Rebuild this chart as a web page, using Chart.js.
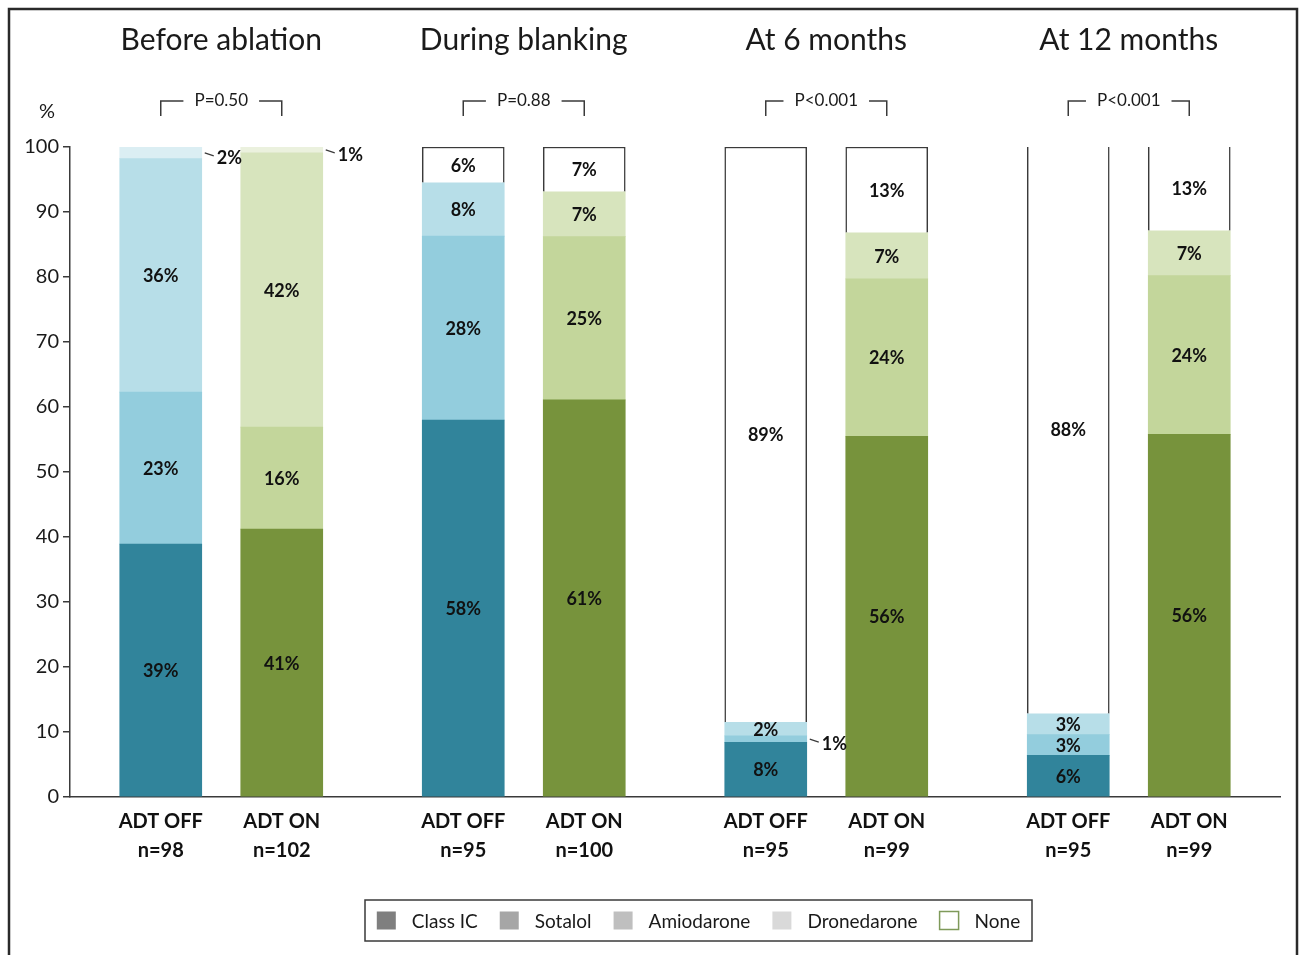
<!DOCTYPE html>
<html>
<head>
<meta charset="utf-8">
<script src="https://cdn.jsdelivr.net/npm/chart.js@4.4.1/dist/chart.umd.min.js"></script>
<style>
  html, body { margin: 0; padding: 0; background: #fff; }
  #wrap { width: 1300px; height: 955px; }
</style>
</head>
<body>
<div id="wrap"><canvas id="chart" width="1300" height="955"></canvas></div>
<script>
// Data
const groups = ['Before ablation', 'During blanking', 'At 6 months', 'At 12 months'];
const pValues = ['P=0.50', 'P=0.88', 'P<0.001', 'P<0.001'];
const barLabels = [
  ['ADT OFF', 'n=98'], ['ADT ON', 'n=102'],
  ['ADT OFF', 'n=95'], ['ADT ON', 'n=100'],
  ['ADT OFF', 'n=95'], ['ADT ON', 'n=99'],
  ['ADT OFF', 'n=95'], ['ADT ON', 'n=99']
];
const classIC     = [38.9, 41.2, 58.0, 61.1, 8.4, 55.5, 6.4, 55.8];
const sotalol     = [23.4, 15.7, 28.3, 25.1, 1.0, 24.2, 3.2, 24.4];
const amiodarone  = [35.9, 42.2, 8.2, 6.9, 2.1, 7.1, 3.2, 6.9];
const dronedarone = [1.8, 0.9, 0, 0, 0, 0, 0, 0];
const none        = [0, 0, 5.5, 6.9, 88.5, 13.2, 87.5, 13.2];

const FONT = 'Lato';
const INK = '#1a1a1a';
const LINE = '#3a3a3a';

// bars sit in slots of a 20-slot category axis (pairs 2 apart, groups 5 apart)
const SLOTS = 20;
const barSlots = [1, 3, 6, 8, 11, 13, 16, 18];
const slotLabels = Array(SLOTS).fill('');
barSlots.forEach((s, i) => { slotLabels[s] = barLabels[i]; });

const offColors = ['#31849b', '#93cddd', '#b7dee8', '#dbeef3'];
const onColors  = ['#77933c', '#c3d69b', '#d7e4bd', '#ebf1de'];

function toSlots(values) {
  const out = Array(SLOTS).fill(null);
  barSlots.forEach((s, i) => { if (values[i] > 0) out[s] = values[i]; });
  return out;
}

function slotColors(level) {
  const out = Array(SLOTS).fill('#fff');
  barSlots.forEach((s, i) => { out[s] = i % 2 === 0 ? offColors[level] : onColors[level]; });
  return out;
}

const series = [
  { label: 'Class IC', values: classIC, legend: '#7f7f7f' },
  { label: 'Sotalol', values: sotalol, legend: '#a6a6a6' },
  { label: 'Amiodarone', values: amiodarone, legend: '#bfbfbf' },
  { label: 'Dronedarone', values: dronedarone, legend: '#d9d9d9' },
  { label: 'None', values: none, legend: '#fff' }
];

const datasets = series.map((s, k) => {
  const isNone = s.label === 'None';
  return {
    label: s.label,
    data: toSlots(s.values),
    backgroundColor: isNone ? '#fff' : slotColors(k),
    borderColor: LINE,
    borderWidth: isNone ? 1.5 : 0,
    borderSkipped: 'start',
    barThickness: 82
  };
});

// value labels, small ones go outside with a leader line
const valueLabels = {
  id: 'valueLabels',
  afterDatasetsDraw(chart) {
    const ctx = chart.ctx;
    ctx.save();
    ctx.font = `bold 18px ${FONT}`;
    ctx.fillStyle = '#111';
    ctx.textBaseline = 'middle';
    chart.data.datasets.forEach((ds, i) => {
      const meta = chart.getDatasetMeta(i);
      meta.data.forEach((el, j) => {
        const v = ds.data[j];
        if (v == null) return;
        const cy = (el.y + el.base) / 2;
        const txt = Math.round(v) + '%';
        if (v < 2) {
          const xr = el.x + el.width / 2;
          ctx.strokeStyle = LINE;
          ctx.lineWidth = 1.2;
          ctx.beginPath();
          ctx.moveTo(xr + 3, cy);
          ctx.lineTo(xr + 12, cy + 3);
          ctx.stroke();
          ctx.textAlign = 'left';
          ctx.fillText(txt, xr + 15, cy + 5);
        } else {
          ctx.textAlign = 'center';
          ctx.fillText(txt, el.x, cy + 1);
        }
      });
    });
    ctx.restore();
  }
};

// frame, titles, p-value brackets, % label and legend box
const decor = {
  id: 'decor',
  afterDraw(chart) {
    const ctx = chart.ctx;
    const x = chart.scales.x;
    ctx.save();

    ctx.strokeStyle = '#2a2a2a';
    ctx.lineWidth = 2.5;
    ctx.beginPath();
    ctx.moveTo(9, 955);
    ctx.lineTo(9, 9);
    ctx.lineTo(1297, 9);
    ctx.lineTo(1297, 955);
    ctx.stroke();

    ctx.fillStyle = INK;
    ctx.textBaseline = 'middle';
    ctx.textAlign = 'center';
    ctx.font = `20px ${FONT}`;
    ctx.fillText('%', 47, 112);

    groups.forEach((g, i) => {
      const xl = x.getPixelForValue(barSlots[2 * i]);
      const xr = x.getPixelForValue(barSlots[2 * i + 1]);
      const cx = (xl + xr) / 2;
      ctx.font = `30px ${FONT}`;
      ctx.fillStyle = INK;
      ctx.textAlign = 'center';
      ctx.fillText(g, cx, 40);

      ctx.font = `17px ${FONT}`;
      const tw = ctx.measureText(pValues[i]).width;
      ctx.fillText(pValues[i], cx, 101);
      ctx.strokeStyle = LINE;
      ctx.lineWidth = 1.5;
      ctx.beginPath();
      ctx.moveTo(xl, 116);
      ctx.lineTo(xl, 101);
      ctx.lineTo(cx - tw / 2 - 11, 101);
      ctx.moveTo(cx + tw / 2 + 11, 101);
      ctx.lineTo(xr, 101);
      ctx.lineTo(xr, 116);
      ctx.stroke();
    });

    // legend
    ctx.font = `19px ${FONT}`;
    const sq = 19, gapText = 16, gapItem = 22;
    const widths = series.map(s => ctx.measureText(s.label).width);
    const total = widths.reduce((a, w) => a + sq + gapText + w, 0) + gapItem * (series.length - 1);
    const boxL = 365, boxR = 1032, boxT = 900, boxB = 941;
    ctx.strokeStyle = LINE;
    ctx.lineWidth = 1.5;
    ctx.strokeRect(boxL, boxT, boxR - boxL, boxB - boxT);
    let lx = (boxL + boxR) / 2 - total / 2;
    const ly = (boxT + boxB) / 2;
    series.forEach((s, i) => {
      ctx.fillStyle = s.legend;
      ctx.fillRect(lx, ly - 9, sq, 18);
      if (s.label === 'None') {
        ctx.strokeStyle = '#7f9a5a';
        ctx.lineWidth = 1.5;
        ctx.strokeRect(lx, ly - 9, sq, 18);
      }
      lx += sq + gapText;
      ctx.fillStyle = INK;
      ctx.textAlign = 'left';
      ctx.fillText(s.label, lx, ly + 1);
      lx += widths[i] + gapItem;
    });

    ctx.restore();
  }
};

new Chart(document.getElementById('chart'), {
  type: 'bar',
  data: { labels: slotLabels, datasets },
  options: {
    responsive: false,
    animation: false,
    layout: { padding: { left: 0, top: 147, right: 20, bottom: 0 } },
    plugins: { legend: { display: false }, tooltip: { enabled: false } },
    scales: {
      x: {
        stacked: true,
        grid: { display: false, drawTicks: false },
        border: { display: true, color: LINE, width: 1.5 },
        ticks: {
          autoSkip: false, maxRotation: 0, padding: 10, color: '#111',
          font: { family: FONT, size: 20, weight: 'bold', lineHeight: 1.45 }
        },
        afterFit: s => { s.height = 158; }
      },
      y: {
        stacked: true,
        min: 0,
        max: 100,
        ticks: { stepSize: 10, padding: 4, color: INK, font: { family: FONT, size: 20 } },
        grid: { drawOnChartArea: false, drawTicks: true, tickLength: 7, color: LINE, lineWidth: 1.5 },
        border: { display: true, color: LINE, width: 1.5 },
        afterFit: s => { s.width = 70; }
      }
    }
  },
  plugins: [valueLabels, decor]
});
</script>
</body>
</html>
